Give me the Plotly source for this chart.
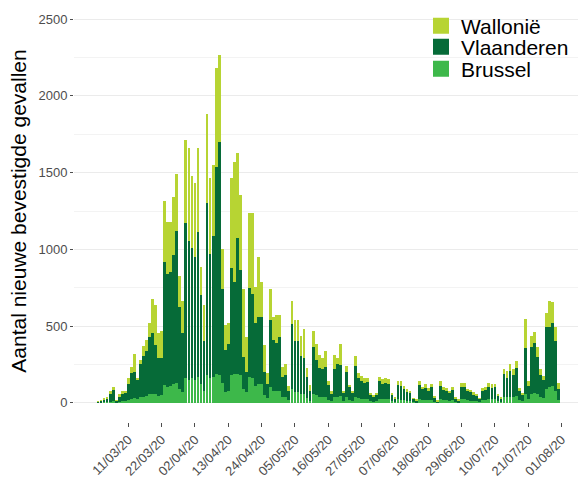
import pandas as pd
import plotly.graph_objects as go

# Daily dates, 1 March 2020 .. 31 July 2020
dates = pd.date_range("2020-03-01", "2020-07-31", freq="D")

brussel = [
    1, 2, 3, 5, 8, 10, 2, 6, 10, 12,
    18, 25, 30, 25, 35, 40, 45, 55, 60, 55,
    45, 50, 115, 105, 110, 120, 130, 90, 70, 160,
    150, 160, 150, 170, 120, 80, 180, 160, 170, 190,
    180, 130, 70, 80, 180, 190, 190, 180, 90, 70,
    170, 160, 110, 120, 120, 50, 30, 100, 80, 80,
    80, 40, 40, 20, 90, 70, 70, 60, 60, 30,
    15, 60, 50, 40, 40, 40, 20, 12, 40, 40,
    45, 15, 35, 20, 12, 40, 30, 25, 25, 25,
    10, 8, 10, 25, 25, 25, 22, 10, 6, 22,
    20, 18, 15, 14, 6, 4, 22, 18, 20, 16,
    20, 8, 3, 22, 18, 16, 14, 18, 7, 4,
    22, 22, 16, 15, 12, 10, 6, 18, 20, 25,
    24, 24, 12, 8, 35, 35, 40, 35, 45, 18,
    12, 60, 25, 60, 65, 60, 35, 30, 90, 100,
    110, 80, 20,
]

vlaanderen = [
    7, 10, 16, 25, 52, 72, 10, 34, 50, 50,
    107, 170, 170, 125, 220, 265, 295, 375, 395, 325,
    245, 240, 803, 735, 745, 843, 992, 537, 383, 1010,
    905, 847, 803, 945, 583, 320, 1124, 808, 917, 1349,
    1517, 610, 275, 304, 701, 600, 886, 688, 210, 130,
    581, 547, 410, 440, 440, 150, 90, 440, 330, 310,
    347, 127, 140, 60, 424, 336, 330, 242, 230, 141,
    59, 307, 230, 186, 179, 192, 97, 51, 179, 210,
    202, 50, 165, 80, 53, 200, 130, 120, 105, 110,
    40, 30, 42, 115, 100, 105, 103, 42, 22, 93,
    88, 72, 57, 51, 19, 12, 93, 70, 78, 62,
    80, 26, 8, 90, 67, 62, 50, 68, 23, 12,
    83, 82, 58, 55, 45, 35, 19, 58, 62, 75,
    74, 76, 36, 22, 150, 130, 165, 145, 180, 62,
    40, 296, 85, 307, 323, 240, 145, 120, 407, 397,
    413, 320, 70,
]

wallonie = [
    2, 3, 6, 10, 15, 23, 3, 15, 20, 18,
    40, 40, 115, 15, 25, 65, 70, 90, 222, 260,
    165, 180, 395, 340, 325, 380, 368, 200, 211, 542,
    607, 471, 477, 547, 185, 238, 577, 495, 462, 644,
    569, 263, 163, 139, 582, 781, 554, 487, 440, 232,
    484, 533, 237, 393, 225, 180, 75, 200, 152, 180,
    146, 65, 70, 30, 150, 134, 140, 134, 190, 55,
    43, 104, 106, 84, 71, 108, 28, 13, 91, 39,
    135, 15, 43, 17, 10, 68, 37, 31, 35, 30,
    13, 8, 11, 31, 33, 35, 29, 11, 7, 30,
    31, 20, 17, 15, 5, 4, 28, 18, 23, 17,
    21, 7, 2, 27, 21, 17, 14, 20, 7, 4,
    23, 24, 17, 15, 13, 10, 5, 19, 20, 28,
    26, 24, 11, 7, 34, 45, 49, 39, 48, 15,
    11, 191, 29, 69, 76, 62, 39, 26, 87, 165,
    132, 93, 38,
]

series_names = ["Brussel", "Vlaanderen", "Wallonië"]
series_colors = ["#3db84a", "#066b38", "#b7d433"]
series_values = [brussel, vlaanderen, wallonie]
legend_ids = ["legend", "legend2", "legend3"]

x_tickvals = ["2020-03-11", "2020-03-22", "2020-04-02", "2020-04-13", "2020-04-24",
              "2020-05-05", "2020-05-16", "2020-05-27", "2020-06-07", "2020-06-18",
              "2020-06-29", "2020-07-10", "2020-07-21", "2020-08-01"]
x_ticktext = ["11/03/20", "22/03/20", "02/04/20", "13/04/20", "24/04/20",
              "05/05/20", "16/05/20", "27/05/20", "07/06/20", "18/06/20",
              "29/06/20", "10/07/20", "21/07/20", "01/08/20"]
y_tickvals = [0, 500, 1000, 1500, 2000, 2500]

font_family = "Liberation Sans, Arial, sans-serif"

fig = go.Figure()
for name, color, vals, lg in zip(series_names, series_colors, series_values, legend_ids):
    fig.add_trace(go.Bar(
        x=dates, y=vals, name=name, legendgroup=name, showlegend=False,
        marker=dict(color=color, line=dict(width=0)),
    ))
    # legend key (no visible mark in the plot)
    fig.add_trace(go.Scatter(
        x=[None], y=[None], mode="markers", name=name, legendgroup=name,
        legend=lg, showlegend=True,
        marker=dict(symbol="square", size=18, color=color),
    ))

PLOT_H = 422.0
LEG_X = (421 - 74) / 504.0

def leg(row_center_px):
    return dict(
        x=LEG_X, xanchor="left",
        y=1 - row_center_px / PLOT_H, yanchor="middle",
        bgcolor="rgba(0,0,0,0)",
        font=dict(size=21, color="black", family=font_family),
    )

fig.update_layout(
    barmode="stack",
    bargap=0.08,
    width=578, height=484,
    margin=dict(l=74, r=0, t=0, b=62, autoexpand=False),
    paper_bgcolor="white",
    plot_bgcolor="white",
    font=dict(family=font_family, color="#4d4d4d", size=13),
    showlegend=True,
    legend=leg(69),    # Brussel
    legend2=leg(47),   # Vlaanderen
    legend3=leg(26),   # Wallonië
    shapes=[dict(
        type="rect", xref="paper", yref="paper",
        x0=LEG_X, x1=1.0, y0=1 - 86 / PLOT_H, y1=1.0,
        fillcolor="white", line=dict(width=0), layer="between",
    )],
    xaxis=dict(
        type="date",
        range=["2020-02-22 02:00", "2020-08-06 10:00"],
        tickvals=x_tickvals,
        ticktext=x_ticktext,
        tickangle=-45,
        ticks="outside",
        ticklen=4,
        tickcolor="#4d4d4d",
        tickfont=dict(size=13, color="#4d4d4d"),
        showgrid=False,
        zeroline=False,
        showline=False,
        automargin=False,
    ),
    yaxis=dict(
        range=[-125, 2625],
        tickvals=y_tickvals,
        ticks="outside",
        ticklen=3,
        tickcolor="#4d4d4d",
        tickfont=dict(size=13, color="#4d4d4d"),
        showgrid=True,
        gridcolor="#ebebeb",
        gridwidth=1,
        minor=dict(dtick=250, showgrid=True, gridcolor="#f3f3f3", gridwidth=1, ticks=""),
        zeroline=False,
        showline=False,
        automargin=False,
        title=dict(
            text="Aantal nieuwe bevestigde gevallen",
            font=dict(size=21, color="black", family=font_family),
            standoff=6,
        ),
    ),
)

fig.write_html("out.html", config={"displayModeBar": False},
               post_script="document.body.style.margin='0';")
